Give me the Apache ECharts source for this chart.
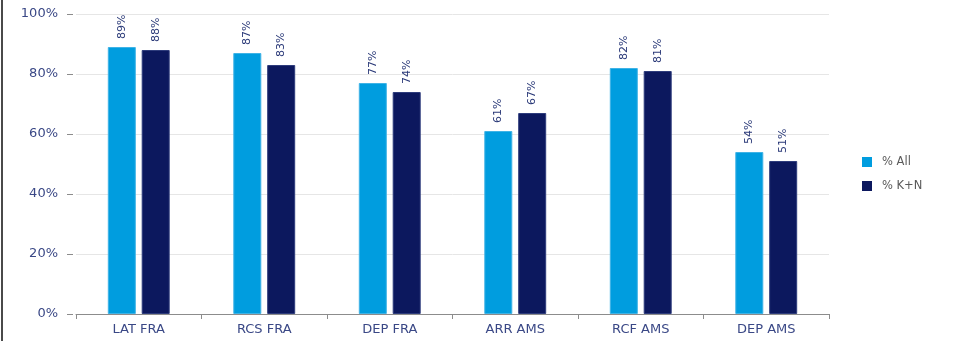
<!DOCTYPE html>
<html>
<head>
<meta charset="utf-8">
<script src="https://cdn.jsdelivr.net/npm/echarts@6/dist/echarts.min.js"></script>
<style>
  html, body { margin: 0; padding: 0; background: #ffffff; }
  #chart { width: 953px; height: 341px; }
</style>
</head>
<body>
<div id="chart"></div>
<script>
// Punctuality by station / movement type
const categories = ['LAT FRA', 'RCS FRA', 'DEP FRA', 'ARR AMS', 'RCF AMS', 'DEP AMS'];
const seriesNames = ['% All', '% K+N'];
const allValues = [89, 87, 77, 61, 82, 54];
const knValues = [88, 83, 74, 67, 81, 51];
const yTicks = { min: 0, max: 100, interval: 20 };

const textColor = '#3a4886';
const labelColor = '#2a3978';

const valueLabel = {
  show: true,
  position: 'top',
  rotate: 90,
  align: 'left',
  verticalAlign: 'middle',
  distance: 8,
  fontFamily: 'DejaVu Sans',
  fontSize: 11,
  color: labelColor,
  formatter: p => p.value + '%'
};

const chart = echarts.init(document.getElementById('chart'), null, { renderer: 'canvas' });
chart.setOption({
  animation: false,
  backgroundColor: '#ffffff',
  graphic: [{
    type: 'rect',
    left: 1,
    top: 0,
    shape: { width: 2, height: 341 },
    style: { fill: '#4a4a4a' },
    z: 100
  }],
  grid: { left: 76, right: 124, top: 14, bottom: 27 },
  legend: {
    orient: 'vertical',
    left: 857,
    top: 151,
    itemWidth: 10,
    itemHeight: 10,
    itemGap: 12,
    icon: 'rect',
    itemStyle: { borderWidth: 0 },
    textStyle: { fontFamily: 'DejaVu Sans', fontSize: 11.5, color: '#5a5a5a', padding: [0, 0, 0, 5] },
    data: seriesNames
  },
  xAxis: {
    type: 'category',
    data: categories,
    axisLine: { show: true, lineStyle: { color: '#8c8c8c', width: 1 } },
    axisTick: { show: true, length: 5, lineStyle: { color: '#8c8c8c' } },
    axisLabel: { margin: 9, fontFamily: 'DejaVu Sans', fontSize: 13, color: textColor },
    splitLine: { show: false }
  },
  yAxis: {
    type: 'value',
    min: yTicks.min,
    max: yTicks.max,
    interval: yTicks.interval,
    offset: 3,
    axisLine: { show: false },
    axisTick: { show: true, length: 6, lineStyle: { color: '#8c8c8c' } },
    axisLabel: {
      margin: 15,
      fontFamily: 'DejaVu Sans',
      fontSize: 13,
      color: textColor,
      formatter: '{value}%'
    },
    splitLine: { show: true, lineStyle: { color: '#e6e6e6', width: 1 } }
  },
  series: [
    {
      name: seriesNames[0],
      type: 'bar',
      data: allValues,
      barWidth: 28,
      barGap: '21%',
      itemStyle: { color: '#009ddf', borderColor: '#3fb3e6', borderWidth: 1 },
      label: valueLabel
    },
    {
      name: seriesNames[1],
      type: 'bar',
      data: knValues,
      barWidth: 28,
      itemStyle: { color: '#0c185e', borderColor: '#2e3c7c', borderWidth: 1 },
      label: valueLabel
    }
  ]
});
</script>
</body>
</html>
